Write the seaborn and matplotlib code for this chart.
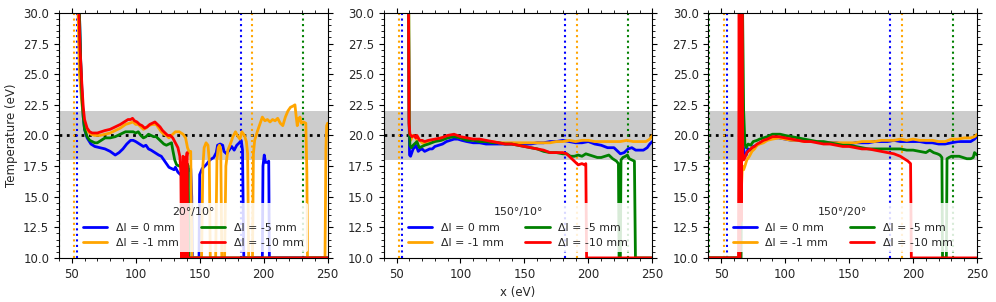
import numpy as np
import pandas as pd
import seaborn as sns
import matplotlib
matplotlib.use("Agg")
import matplotlib.pyplot as plt

# ---------------- data ----------------
labels = ["Δl = 0 mm", "Δl = -1 mm", "Δl = -5 mm", "Δl = -10 mm"]
colors = ["blue", "orange", "green", "red"]
titles = ["20°/10°", "150°/10°", "150°/20°"]
vlines_x = [40.3, 52, 54.3, 182, 191, 231]
vlines_c = ["green", "orange", "blue", "blue", "orange", "green"]

# panel 1 : 20°/10°
p1_blue_x = [55.5, 57, 58, 59, 60, 62, 65, 68, 72, 76, 80, 84, 87, 90, 93, 96, 98, 100, 103, 106, 108,
             110, 112, 115, 118, 120, 122, 124, 126, 128, 130, 131, 133, 135, 137, 140, 143, 143.8, 144.3,
             149.5, 150, 152, 155, 158, 161, 163, 164, 166, 168, 169, 171, 173, 175, 177, 179, 181, 182.5,
             183.5, 184.5, 199, 199.5, 200.5, 201.5, 203, 204, 204.5, 250]
p1_blue_y = [32, 26, 23.5, 21.5, 20.5, 19.8, 19.3, 19.1, 19.0, 18.9, 18.7, 18.4, 18.6, 18.9, 19.3, 19.6, 19.6,
             19.5, 19.3, 19.1, 19.2, 18.9, 18.8, 18.6, 18.4, 18.3, 18.0, 17.7, 17.4, 17.3, 17.2, 17.4, 17.0,
             16.8, 17.2, 17.0, 17.3, 15.0, 10,
             10, 16.8, 17.3, 17.6, 18.0, 18.2, 18.6, 19.2, 19.3, 19.2, 18.7, 18.5, 18.8, 19.1, 18.8, 19.2,
             19.4, 19.6, 18.8, 10, 10, 17.5, 18.4, 17.8, 17.8, 17.9, 10, 10]

p1_orange_x = [54.5, 56, 58, 60, 62, 65, 68, 72, 76, 80, 84, 88, 92, 95, 98, 100, 102, 104, 106, 108, 110,
               113, 116, 118, 120, 122, 124, 126, 128, 131, 134, 137, 139, 140.5, 142, 143, 143.5, 144,
               151.5, 152.5, 153.5, 155, 156.5, 157.5, 158.3, 162.5, 163.5, 164.5, 165.5, 166.5, 167.3,
               169.5, 170.5, 172, 174, 176, 178, 180, 181.5, 183, 185, 186.5, 187.5, 188.3,
               191.3, 192, 193, 195, 197, 199, 201, 203, 205, 207, 209, 211, 213, 215, 217, 219, 221, 223,
               224.5, 225.5, 226.3, 227.5, 228.5, 229.5, 231, 233, 233.8, 234.3, 248, 248.7, 249.3, 250]
p1_orange_y = [32, 25, 22.5, 21.0, 20.4, 20.1, 20.0, 20.0, 20.1, 20.2, 20.4, 20.6, 20.9, 21.0, 21.1, 20.9,
               20.9, 20.7, 20.5, 20.6, 20.8, 20.9, 20.9, 20.6, 20.3, 20.1, 20.0, 19.8, 20.0, 20.3, 20.3,
               20.1, 19.8, 19.0, 18.6, 18.7, 14, 10,
               10, 17.5, 19.0, 19.4, 19.2, 18.0, 10, 10, 18.0, 19.0, 19.2, 18.8, 10,
               10, 17.5, 18.8, 19.3, 19.9, 20.3, 19.9, 19.7, 20.3, 20.0, 19.5, 18.5, 10,
               10, 18.5, 19.6, 20.3, 20.9, 21.5, 21.2, 21.3, 21.1, 21.3, 21.2, 21.4, 21.0, 20.8, 21.5, 22.0,
               22.3, 22.4, 22.5, 21.5, 20.8, 21.4, 21.5, 21.0, 21.1, 21.0, 17, 10, 10, 19, 20.8, 21.0]

p1_green_x = [55.5, 57, 58, 59, 60, 62, 64, 66, 68, 70, 73, 76, 80, 84, 88, 92, 95, 98, 100, 102, 104, 106,
              108, 110, 112, 114, 116, 118, 120, 122, 124, 126, 128, 129, 130.5, 132, 134, 136, 137, 137.5,
              139.5, 140.2, 141, 141.6, 250]
p1_green_y = [32, 26, 23, 21.5, 20.5, 19.9, 19.6, 19.5, 19.4, 19.4, 19.6, 19.8, 19.8, 19.9, 20.1, 20.3, 20.3,
              20.3, 20.2, 20.3, 20.0, 19.8, 19.9, 20.1, 20.0, 19.9, 19.9, 19.7, 19.5, 19.3, 19.2, 19.3, 19.4,
              18.8, 18.0, 17.6, 17.5, 17.6, 17.0, 10, 10, 17.7, 17.5, 10, 10]

p1_red_x = [55, 56.5, 58, 59, 60, 62, 64, 66, 68, 70, 73, 76, 80, 84, 88, 91, 94, 96, 97.5, 99, 101, 103,
            105, 107, 109, 111, 113, 115, 117, 119, 121, 123, 125, 127, 129, 131, 133, 134.5, 135.3, 135.8,
            136.3, 137, 137.7, 138.3, 138.8, 139.5, 140.2, 140.7, 250]
p1_red_y = [32, 27, 24, 22.3, 21.3, 20.6, 20.3, 20.2, 20.2, 20.2, 20.3, 20.4, 20.5, 20.7, 20.9, 21.1, 21.3,
            21.3, 21.4, 21.2, 21.1, 20.9, 20.8, 20.6, 20.7, 20.9, 21.0, 21.1, 20.9, 20.7, 20.4, 20.2, 20.0,
            20.0, 19.8, 19.4, 19.0, 18.3, 17.0, 10, 10, 18.3, 18.2, 10, 10, 18.0, 18.6, 10, 10]

# panel 2 : 150°/10°
p2_blue_x = [59.3, 59.8, 60.2, 61, 62, 63, 64, 65, 66, 67, 68, 70, 72, 74, 76, 78, 80, 83, 86, 89, 92, 95,
             98, 101, 105, 110, 115, 120, 125, 130, 135, 140, 145, 150, 155, 160, 165, 170, 175, 180, 185,
             190, 195, 200, 205, 210, 215, 220, 223, 225, 228, 231, 234, 237, 240, 243, 246, 248, 250]
p2_blue_y = [32, 22, 18.4, 18.3, 18.6, 18.9, 19.0, 19.2, 19.0, 18.7, 18.8, 18.9, 18.7, 18.8, 18.9, 18.9,
             19.1, 19.2, 19.3, 19.5, 19.6, 19.7, 19.7, 19.6, 19.5, 19.4, 19.4, 19.3, 19.3, 19.3, 19.3, 19.3,
             19.3, 19.3, 19.3, 19.4, 19.4, 19.5, 19.5, 19.6, 19.5, 19.4, 19.4, 19.5, 19.3, 19.2, 19.0, 19.0,
             18.7, 18.5, 18.6, 18.9, 19.0, 18.8, 18.8, 18.8, 19.0, 19.3, 19.5]

p2_orange_x = [59.5, 60, 61, 62, 63, 65, 66, 67, 68, 70, 72, 74, 76, 80, 85, 90, 95, 100, 105, 110, 115, 120,
               125, 130, 135, 140, 145, 150, 155, 160, 165, 170, 175, 180, 185, 190, 195, 200, 205, 210, 215,
               220, 225, 230, 235, 240, 245, 248, 250]
p2_orange_y = [32, 20.5, 19.6, 19.8, 20.0, 19.9, 19.6, 19.8, 19.6, 19.4, 19.3, 19.4, 19.5, 19.6, 19.8, 19.9,
               20.0, 19.8, 19.7, 19.6, 19.6, 19.5, 19.5, 19.4, 19.4, 19.4, 19.4, 19.4, 19.4, 19.4, 19.4, 19.4,
               19.5, 19.5, 19.6, 19.5, 19.6, 19.6, 19.5, 19.5, 19.5, 19.5, 19.5, 19.6, 19.5, 19.5, 19.5, 19.7,
               20.0]

p2_green_x = [59.5, 59.9, 60.5, 61.5, 63, 65, 66, 67, 68, 70, 72, 75, 80, 85, 90, 95, 100, 105, 110, 115,
              120, 125, 130, 135, 140, 145, 150, 155, 160, 165, 170, 175, 180, 183, 186, 189, 192, 195, 198,
              201, 204, 207, 210, 213, 216, 219, 222, 223.5, 224, 225, 225.5, 227, 229, 230.5, 232, 234,
              236, 236.8, 250]
p2_green_y = [32, 21, 19.2, 19.0, 19.2, 19.4, 19.5, 19.2, 19.0, 19.1, 19.2, 19.3, 19.5, 19.6, 19.8, 19.9,
              19.8, 19.6, 19.6, 19.5, 19.5, 19.4, 19.4, 19.3, 19.3, 19.2, 19.1, 19.0, 18.9, 18.7, 18.6, 18.6,
              18.5, 18.5, 18.3, 18.3, 18.4, 18.3, 18.5, 18.4, 18.3, 18.2, 18.2, 18.3, 18.4, 18.1, 17.9, 17.7,
              10, 10, 18.0, 18.2, 18.3, 18.4, 18.1, 18.0, 17.9, 10, 10]

p2_red_x = [59.3, 59.8, 60.5, 62, 64, 65, 66, 67, 68, 70, 72, 75, 80, 85, 90, 95, 100, 105, 110, 115, 120,
            125, 130, 135, 140, 145, 150, 155, 160, 165, 170, 175, 180, 183, 186, 189, 192, 195, 197, 198,
            198.6, 250]
p2_red_y = [32, 21, 20.1, 19.9, 20.0, 19.8, 20.0, 19.8, 19.6, 19.6, 19.5, 19.6, 19.7, 19.8, 20.0, 20.1, 19.9,
            19.8, 19.7, 19.7, 19.6, 19.5, 19.4, 19.3, 19.3, 19.2, 19.1, 19.0, 18.9, 18.8, 18.6, 18.6, 18.6,
            18.5, 18.2, 17.9, 17.6, 17.7, 17.6, 17.7, 10, 10]

# panel 3 : 150°/20°
p3_blue_x = [40, 64, 64.6, 65.3, 66.2, 67, 68, 69.5, 71, 73, 75, 78, 80, 83, 86, 90, 95, 100, 105, 110, 115,
             120, 125, 130, 135, 140, 145, 150, 155, 160, 165, 170, 175, 180, 185, 190, 195, 200, 205, 210,
             215, 220, 225, 230, 235, 240, 245, 248, 250]
p3_blue_y = [10, 10, 32, 14.7, 19.5, 19.2, 18.6, 18.4, 18.9, 18.8, 19.1, 19.2, 19.4, 19.5, 19.7, 19.8, 19.8,
             19.7, 19.6, 19.6, 19.6, 19.5, 19.5, 19.4, 19.4, 19.4, 19.3, 19.3, 19.4, 19.4, 19.4, 19.5, 19.5,
             19.5, 19.6, 19.5, 19.5, 19.5, 19.5, 19.4, 19.4, 19.3, 19.3, 19.4, 19.5, 19.5, 19.5, 19.7, 19.9]

p3_orange_x = [40, 64, 64.8, 65.5, 66.5, 67.5, 68.5, 70, 72, 74, 76, 78, 80, 83, 86, 90, 95, 100, 105, 110,
               115, 120, 125, 130, 135, 140, 145, 150, 155, 160, 165, 170, 175, 180, 185, 190, 195, 200, 205,
               210, 215, 220, 225, 230, 235, 240, 245, 248, 250]
p3_orange_y = [10, 10, 32, 15, 17.5, 17.2, 17.5, 18.0, 18.3, 18.7, 18.9, 19.2, 19.3, 19.4, 19.6, 19.7, 19.8,
               19.7, 19.6, 19.6, 19.5, 19.5, 19.5, 19.4, 19.4, 19.4, 19.4, 19.4, 19.4, 19.5, 19.5, 19.5, 19.6,
               19.6, 19.6, 19.7, 19.6, 19.7, 19.6, 19.6, 19.6, 19.5, 19.5, 19.7, 19.7, 19.8, 19.8, 19.9, 20.1]

p3_green_x = [40, 65.5, 66.5, 67.5, 68.5, 69.5, 71, 73, 75, 78, 80, 83, 86, 90, 93, 96, 100, 105, 110, 115,
              120, 125, 130, 135, 140, 145, 150, 155, 160, 165, 170, 175, 180, 185, 190, 195, 200, 205, 210,
              213, 216, 219, 221, 222.5, 223, 226, 226.5, 228, 230, 233, 236, 239, 242, 245, 247, 248, 250]
p3_green_y = [10, 10, 32, 22, 19.3, 19.0, 19.3, 19.2, 19.5, 19.6, 19.7, 19.8, 19.9, 20.1, 20.1, 20.1, 20.0,
              19.9, 19.8, 19.7, 19.6, 19.5, 19.5, 19.4, 19.3, 19.2, 19.2, 19.1, 19.0, 18.9, 18.9, 18.9, 18.9,
              18.9, 18.9, 18.8, 18.8, 18.7, 18.6, 18.8, 18.6, 18.5, 18.4, 18.2, 10, 10, 18.1, 18.2, 18.3, 18.3,
              18.3, 18.2, 18.1, 18.1, 18.2, 18.6, 18.4]

p3_red_x = [40, 63.5, 64, 64.5, 65, 65.6, 66.2, 66.8, 67.5, 68.5, 70, 72, 74, 76, 78, 80, 83, 86, 90, 95, 100,
            105, 110, 115, 120, 125, 130, 135, 140, 145, 150, 155, 160, 165, 170, 175, 180, 185, 190, 193,
            196, 198, 198.6, 250]
p3_red_y = [10, 10, 32, 10, 32, 13, 32, 18.5, 18.0, 18.2, 18.6, 18.8, 19.0, 19.1, 19.3, 19.4, 19.6, 19.7,
            19.9, 19.9, 19.8, 19.7, 19.6, 19.5, 19.5, 19.4, 19.3, 19.3, 19.2, 19.1, 19.1, 19.0, 18.9, 18.9,
            18.8, 18.7, 18.6, 18.5, 18.3, 18.1, 17.9, 17.7, 10, 10]

panels = [
    [(p1_blue_x, p1_blue_y), (p1_orange_x, p1_orange_y), (p1_green_x, p1_green_y), (p1_red_x, p1_red_y)],
    [(p2_blue_x, p2_blue_y), (p2_orange_x, p2_orange_y), (p2_green_x, p2_green_y), (p2_red_x, p2_red_y)],
    [(p3_blue_x, p3_blue_y), (p3_orange_x, p3_orange_y), (p3_green_x, p3_green_y), (p3_red_x, p3_red_y)],
]

# ---------------- plot ----------------
sns.set_style("ticks")
plt.rcParams["font.family"] = ["DejaVu Sans"]

fig, axes = plt.subplots(1, 3, figsize=(9.96, 3.02), dpi=100)
fig.subplots_adjust(left=0.0592, right=0.981, top=0.957, bottom=0.146, wspace=0.209)

for ax, series, title in zip(axes, panels, titles):
    ax.axhspan(18, 22, color="#cccccc", zorder=0, lw=0)
    ax.axhline(20, color="black", ls=":", lw=2, zorder=1)
    for xv, c in zip(vlines_x, vlines_c):
        ax.axvline(xv, color=c, ls=":", lw=1.5, zorder=1)

    for (xs, ys), lab, c in zip(series, labels, colors):
        df = pd.DataFrame({"x": xs, "T": ys})
        sns.lineplot(data=df, x="x", y="T", color=c, lw=2.0, label=lab,
                     sort=False, estimator=None, ax=ax, zorder=2)

    ax.set_xlim(40, 250)
    ax.set_ylim(10, 30)
    ax.set_xlabel("")
    ax.set_ylabel("")
    ax.minorticks_on()
    ax.tick_params(which="both", direction="out", top=True, right=True, labelsize=8.5, color="black")
    for sp in ax.spines.values():
        sp.set_visible(True)
        sp.set_color("black")

    leg = ax.legend(title=title, ncol=2, loc="lower center", fontsize=7.9, title_fontsize=7.9,
                    framealpha=0.85, edgecolor="none", handlelength=2.2)
    leg.get_frame().set_facecolor("white")

axes[0].set_ylabel("Temperature (eV)", fontsize=8.5)
axes[1].set_xlabel("x (eV)", fontsize=8.5)

fig.savefig("out.png", dpi=100)
